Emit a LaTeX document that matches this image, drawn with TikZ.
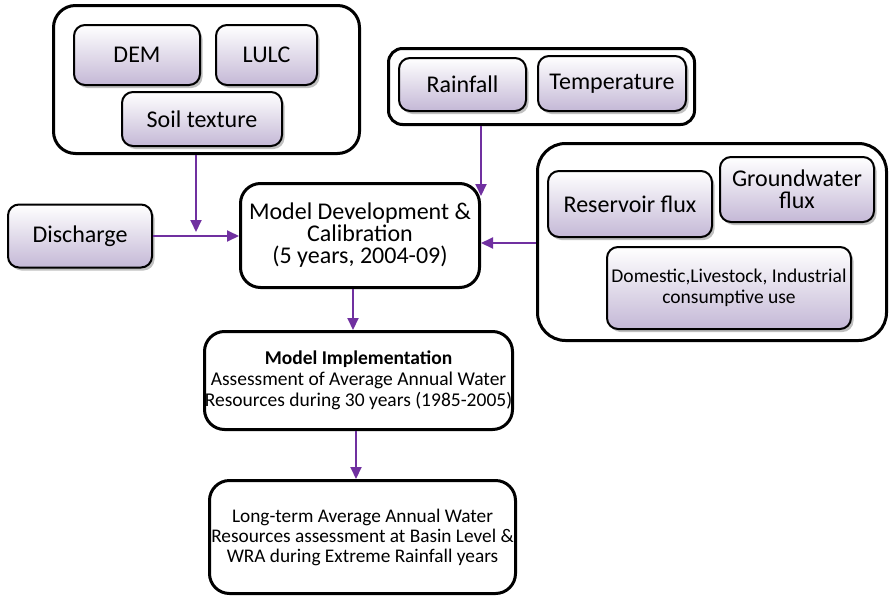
\documentclass[tikz,border=0pt]{standalone}
\usepackage{fontspec}
\setmainfont{Carlito}
\usetikzlibrary{arrows.meta,shadows}
\definecolor{lav}{HTML}{C4B8D6}
\definecolor{arrowc}{HTML}{7030A0}
\begin{document}
\begin{tikzpicture}[x=1pt,y=1pt,
  outerbox/.style={draw=black,line width=3pt,rounded corners=22pt,fill=white,inner sep=0pt},
  inbox/.style={draw=black,line width=2pt,rounded corners=11pt,top color=white,bottom color=lav,
    inner sep=0pt,align=center,font=\fontsize{24}{22}\selectfont,
    drop shadow={shadow xshift=2.5pt,shadow yshift=-3pt,fill=black!70,opacity=0.35}},
  mainbox/.style={draw=black,line width=3pt,rounded corners=20pt,fill=white,inner sep=0pt,align=center},
  arr/.style={draw=arrowc,line width=2pt,-{Triangle[length=12pt,width=11pt]}}]
\useasboundingbox (0,0) rectangle (891,-597);
% groups
\node[outerbox,minimum width=306pt,minimum height=148pt] (g1) at (206.5,-79.5) {};
\node[outerbox,minimum width=306pt,minimum height=76pt,rounded corners=14pt] (g2) at (541.5,-86.5) {};
\node[outerbox,minimum width=349pt,minimum height=197pt,rounded corners=28pt] (g3) at (712,-242) {};
% inputs
\node[inbox,minimum width=126pt,minimum height=60pt] (dem) at (137,-55) {DEM};
\node[inbox,minimum width=101pt,minimum height=60pt] (lulc) at (266.5,-55) {LULC};
\node[inbox,minimum width=160pt,minimum height=54pt] (soil) at (202,-119) {Soil texture};
\node[inbox,minimum width=127pt,minimum height=53pt] (rain) at (462.5,-84.5) {Rainfall};
\node[inbox,minimum width=148pt,minimum height=55pt] (temp) at (612,-83.5) {Temperature};
\node[inbox,minimum width=164pt,minimum height=66pt] (res) at (630,-204) {Reservoir flux};
\node[inbox,minimum width=154pt,minimum height=65pt] (gw) at (797,-189.5) {Groundwater\\flux};
\node[inbox,minimum width=244pt,minimum height=82pt,font=\fontsize{19.5}{20.5}\selectfont] (dom) at (729,-288) {Domestic,Livestock, Industrial\\consumptive use};
\node[inbox,minimum width=144pt,minimum height=63pt] (dis) at (80,-236) {Discharge};
% main flow
\node[mainbox,minimum width=239pt,minimum height=104pt,font=\fontsize{24}{22}\selectfont] (mdc) at (360,-235.5) {Model Development \&\\Calibration\\(5 years, 2004-09)};
\node[mainbox,minimum width=308pt,minimum height=98pt,font=\fontsize{19.5}{21}\selectfont] (mi) at (358.5,-380.5) {\textbf{Model Implementation}\\Assessment of Average Annual Water\\Resources during 30 years (1985-2005)};
\node[mainbox,minimum width=306pt,minimum height=113pt,font=\fontsize{19.3}{20}\selectfont] (lt) at (362.5,-537) {Long-term Average Annual Water\\Resources assessment at Basin Level \&\\WRA during Extreme Rainfall years};
% arrows
\coordinate (a1e) at (196,-232);
\draw[arr] (a1e |- g1.south) -- (a1e);
\draw[arr] (dis.east) -- (dis.east -| mdc.west);
\coordinate (a2e) at (481,-196);
\draw[arr] (a2e |- g2.south) -- (a2e);
\coordinate (a3s) at (536,-243);
\draw[arr] (a3s -| g3.west) -- (a3s -| mdc.east);
\draw[arr] ([xshift=-7pt]mdc.south) -- ([xshift=-7pt]mdc.south |- mi.north);
\draw[arr] ([xshift=-2.5pt]mi.south) -- ([xshift=-2.5pt]mi.south |- lt.north);
\end{tikzpicture}
\end{document}
